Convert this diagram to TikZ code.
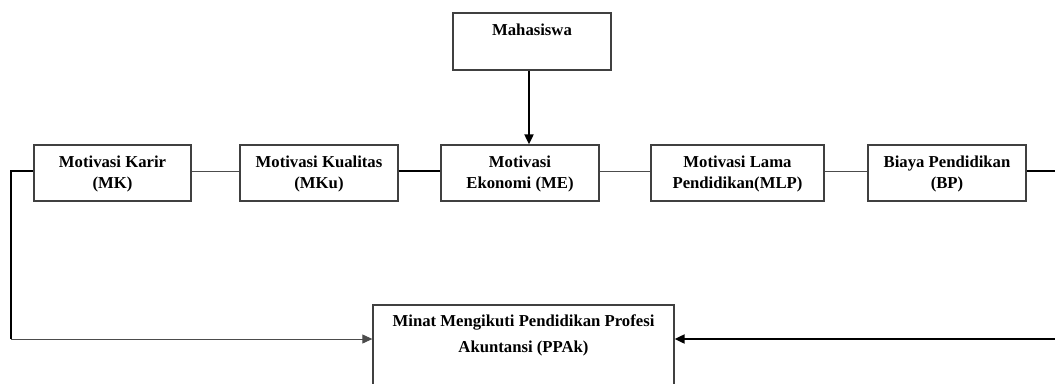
\documentclass[tikz,border=0pt]{standalone}
\usepackage{fontspec}
\setmainfont{Liberation Serif}
\usetikzlibrary{arrows.meta}
\begin{document}
\begin{tikzpicture}[x=1pt,y=-1pt,
  box/.style={draw=black!75, line width=1.3pt, rectangle, inner sep=0pt},
  lbl/.style={inner sep=0pt, align=center, font=\bfseries\fontsize{16.7}{21}\selectfont},
  thin/.style={draw=black!70, line width=1pt},
  thick/.style={draw=black, line width=2pt},
  arr/.style={-{Triangle[length=10pt,width=9pt]}}]
\useasboundingbox (0,0) rectangle (1055,383);
\node[box, minimum width=158pt, minimum height=57pt] (mah) at (532,41.5) {};
\node[box, minimum width=157pt, minimum height=56pt] (mk) at (112.5,173) {};
\node[box, minimum width=158pt, minimum height=56pt] (mku) at (319,173) {};
\node[box, minimum width=158pt, minimum height=56pt] (me) at (520,173) {};
\node[box, minimum width=173pt, minimum height=56pt] (mlp) at (737.5,173) {};
\node[box, minimum width=158pt, minimum height=56pt] (bp) at (947,173) {};
\node[box, minimum width=301pt, minimum height=95pt] (ppak) at (523.5,352.5) {};

% anchor=base is the baseline of the last line
\node[lbl, anchor=base] (tmah) at ([yshift=-23pt]mah.north) {Mahasiswa};
\node[lbl, anchor=base] (tmk) at ([yshift=-44pt]mk.north) {Motivasi Karir\\(MK)};
\node[lbl, anchor=base] (tmku) at ([yshift=-44pt]mku.north) {Motivasi Kualitas\\(MKu)};
\node[lbl, anchor=base] (tme) at ([yshift=-44pt]me.north) {Motivasi\\Ekonomi (ME)};
\node[lbl, anchor=base] (tmlp) at ([yshift=-44pt]mlp.north) {Motivasi Lama\\Pendidikan(MLP)};
\node[lbl, anchor=base] (tbp) at ([yshift=-44pt]bp.north) {Biaya Pendidikan\\(BP)};
\node[lbl, anchor=base, font=\bfseries\fontsize{16.7}{26}\selectfont] (tppak) at ([yshift=-48pt]ppak.north) {Minat Mengikuti Pendidikan Profesi\\Akuntansi (PPAk)};

\coordinate (lc) at (11,339);
\coordinate (r1) at (1056,171);
\coordinate (r2) at (1056,339);

\draw[thick, arr] ([xshift=-3pt]mah.south) -- ([xshift=-3pt]mah.south |- me.north);
\draw[thin] ([yshift=2pt]mk.east) -- ([yshift=2pt]mku.west);
\draw[thick] ([yshift=2pt]mku.east) -- ([yshift=2pt]me.west);
\draw[thin] ([yshift=2pt]me.east) -- ([yshift=2pt]mlp.west);
\draw[thin] ([yshift=2pt]mlp.east) -- ([yshift=2pt]bp.west);
\draw[thick] ([yshift=2pt]bp.east) -- (r1);
\draw[thick] ([yshift=2pt]mk.west) -| (lc);
\draw[thin, arr] (lc) -- (lc -| ppak.west);
\draw[thick, arr] (r2) -- (r2 -| ppak.east);
\end{tikzpicture}
\end{document}
